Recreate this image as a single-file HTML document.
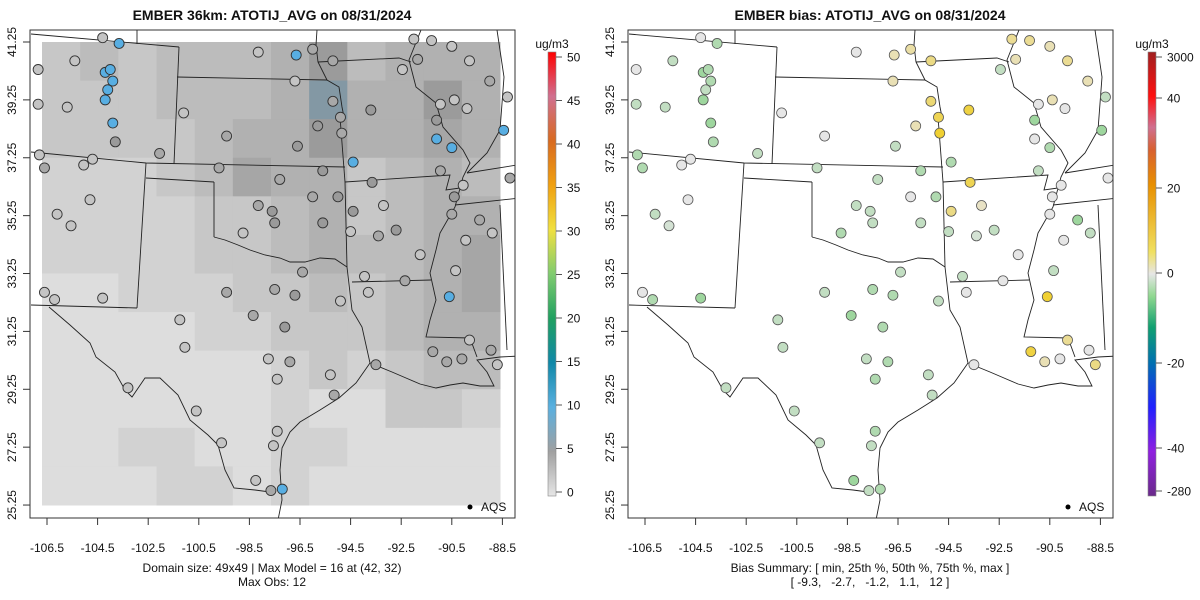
<!DOCTYPE html>
<html><head><meta charset="utf-8"><title>EMBER ATOTIJ_AVG</title>
<style>
html,body{margin:0;padding:0;background:#fff;}
svg{display:block;font-family:"Liberation Sans",Arial,sans-serif;}
</style></head>
<body>
<svg id="chart" width="1200" height="600" viewBox="0 0 1200 600">
<defs>
 <clipPath id="clipL"><rect x="30" y="30" width="485" height="488"/></clipPath>
 <clipPath id="clipR"><rect x="628" y="30" width="485" height="488"/></clipPath>
 <linearGradient id="gradL" x1="0" y1="1" x2="0" y2="0">
  <stop offset="0" stop-color="#e6e6e6"/><stop offset="0.1" stop-color="#a0a0a0"/>
  <stop offset="0.2" stop-color="#5ab0e0"/><stop offset="0.3" stop-color="#1088a8"/>
  <stop offset="0.4" stop-color="#20a060"/><stop offset="0.5" stop-color="#80cc70"/>
  <stop offset="0.6" stop-color="#f0e040"/><stop offset="0.7" stop-color="#f0a010"/>
  <stop offset="0.8" stop-color="#d86a20"/><stop offset="0.9" stop-color="#d07090"/>
  <stop offset="1" stop-color="#ff0000"/>
 </linearGradient>
 <linearGradient id="gradR" x1="0" y1="1" x2="0" y2="0">
  <stop offset="0" stop-color="#6a2a8a"/><stop offset="0.1" stop-color="#9020e0"/>
  <stop offset="0.2" stop-color="#2020ff"/><stop offset="0.3" stop-color="#0070b0"/>
  <stop offset="0.38" stop-color="#10a070"/><stop offset="0.45" stop-color="#90d890"/>
  <stop offset="0.5" stop-color="#e6e6e6"/><stop offset="0.55" stop-color="#f0e060"/>
  <stop offset="0.7" stop-color="#e89000"/><stop offset="0.78" stop-color="#d86030"/>
  <stop offset="0.83" stop-color="#d07090"/><stop offset="0.9" stop-color="#ff1010"/>
  <stop offset="1" stop-color="#a02020"/>
 </linearGradient>
</defs>
<g id="left">
 <g id="gridL" clip-path="url(#clipL)"></g>
 <g id="mapL" clip-path="url(#clipL)"></g>
 <g id="ptsL"></g>
</g>
<g id="right">
 <g id="mapR" clip-path="url(#clipR)"></g>
 <g id="ptsR"></g>
</g>
<g id="axes"></g>
</svg>
<script>
const NS="http://www.w3.org/2000/svg";
// coarse model grid (12x12 blocks, rows north->south), ug/m3
const gridVals=[
[3,4,3,4,4,4,5,7,4,5,5,5],
[3,3,3,4,4,4,5,9,5,5,7,5],
[3,3,3,3,4,5,5,7,5,5,6,5],
[2,2,2,3,4,6,5,5,3,4,5,4],
[2,2,2,2,3,3,4,5,3,4,5,5],
[2,2,2,2,3,3,4,5,4,4,5,6],
[1,1,2,2,2,3,3,4,3,4,5,6],
[1,1,1,1,2,2,3,3,3,4,5,5],
[1,1,1,1,1,1,2,3,2,3,4,4],
[1,1,1,1,1,1,2,1,1,3,3,2],
[1,1,2,2,1,1,2,2,1,1,1,1],
[1,1,1,2,2,1,2,1,1,1,1,1]];
const siteLon=[-104.3,-103.65,-105.4,-104.2,-104.0,-103.9,-104.1,-104.2,-106.85,-106.85,-105.7,-103.9,-103.8,-101.1,-98.15,-96.65,-96.0,-95.2,-96.7,-95.2,-95.8,-94.9,-94.85,-99.4,-96.6,-106.8,-106.6,-105.05,-104.7,-102.05,-99.7,-97.3,-95.6,-95.0,-93.65,-93.2,-104.8,-106.1,-105.55,-98.15,-96.0,-97.6,-97.5,-98.75,-95.6,-94.4,-94.5,-92.7,-93.4,-92.0,-91.85,-92.45,-91.3,-90.5,-89.8,-89.0,-88.3,-88.45,-90.4,-89.9,-91.1,-90.95,-91.1,-90.5,-90.95,-90.4,-90.05,-90.5,-88.2,-89.4,-88.9,-89.95,-90.35,-92.35,-91.75,-90.6,-93.95,-93.8,-94.9,-96.4,-97.5,-96.7,-99.4,-101.25,-101.05,-98.35,-97.1,-97.75,-96.9,-97.4,-95.3,-95.15,-93.5,-91.25,-90.7,-90.1,-88.95,-88.7,-89.8,-106.6,-106.2,-104.3,-103.3,-100.6,-99.6,-97.2,-98.25,-97.65,-97.4,-97.55,-94.4,-93.7];
const siteLat=[41.4,41.2,40.6,40.2,40.3,39.9,39.6,39.25,40.3,39.1,39.0,38.45,37.8,38.8,40.9,40.8,41.0,40.6,39.9,39.2,38.35,38.65,38.1,38.0,37.65,37.35,36.9,37.0,37.2,37.4,36.9,36.5,36.8,35.9,36.4,35.6,35.8,35.3,34.9,35.6,35.9,35.4,35.0,34.65,35.0,35.4,34.7,34.75,34.55,41.35,40.65,40.3,41.3,41.1,40.6,39.9,39.35,38.2,39.25,38.95,38.55,39.1,37.9,37.6,36.8,35.9,36.3,35.3,36.55,35.1,34.65,34.4,33.35,33.0,33.9,32.45,33.15,32.6,32.3,33.3,32.7,32.5,32.6,31.65,30.7,31.8,31.4,30.3,30.2,29.6,29.75,29.05,30.1,30.55,30.2,30.3,30.6,30.1,30.95,32.6,32.35,32.4,29.3,28.5,27.4,25.8,26.1,25.75,27.8,27.3,37.1,38.9];
const siteObs=[3,10,3,12,12,12,12,12,3,3,3,10,5,3,3,10,4,4,3,4,5,4,4,4,5,3,4,3,3,4,4,4,5,5,5,3,3,3,3,4,4,5,5,3,5,5,3,5,4,3,4,3,3,3,3,4,3,10,3,3,5,3,10,10,4,5,3,4,4,4,3,3,3,4,3,10,3,3,3,4,4,5,4,3,3,4,5,3,4,3,3,4,4,4,4,4,4,3,3,3,3,3,3,3,2,10,3,4,3,3,10,5];
const siteBias=[0,-3,-2,-4,-3,-3,-2,-4,0,-2,-2,-4,-3,0,0,3,4,6,3,7,3,9,11,0,-2,-3,-3,0,0,-2,-2,-2,-3,-3,9,2,0,-2,-1,-2,0,-2,-2,-3,-2,6,-2,-2,-1,5,3,-2,5,3,5,3,-2,-4,3,0,-4,0,0,-3,-2,0,0,0,0,-4,-2,0,-2,0,0,11,-2,0,-2,-2,-3,-3,-2,-2,-2,-4,-3,-2,-3,-3,-2,-2,0,10,3,0,0,6,5,0,-3,-4,-2,-2,-2,-3,-4,-2,-3,-2,-3,10,-1];
const xTicks=[-106.5,-104.5,-102.5,-100.5,-98.5,-96.5,-94.5,-92.5,-90.5,-88.5];
const yTicks=[41.25,39.25,37.25,35.25,33.25,31.25,29.25,27.25,25.25];
const cbTicksL=[0,5,10,15,20,25,30,35,40,45,50];
const cbTicksR=["3000","40","20","0","-20","-40","-280"];

function xs(lon,off){return 47+(lon+106.5)*25.3+off;}
function ys(lat){return 42+(41.25-lat)*28.94;}
function mk(tag,attrs,parent){const e=document.createElementNS(NS,tag);for(const k in attrs)e.setAttribute(k,attrs[k]);parent.appendChild(e);return e;}
function gcol(v){
 if(v<=8){const g=Math.round(232-v*11);return `rgb(${g},${g},${g})`;}
 const t=Math.min(1,(v-8)/4);
 return `rgb(${Math.round(144-t*54)},${Math.round(144+t*32)},${Math.round(144+t*80)})`;
}
function bcol(b){
 if(b>=0){const t=Math.min(1,b/11);return `rgb(${Math.round(230+t*10)},${Math.round(230-t*22)},${Math.round(230-t*180)})`;}
 const t=Math.min(1,-b/5);return `rgb(${Math.round(230-t*90)},${Math.round(230-t*20)},${Math.round(230-t*90)})`;
}
function ocol(v){
 if(v>=9)return "#58aee2";
 if(v>=5)return "#9a9a9a";
 if(v>=4)return "#a8a8a8";
 return "#c4c4c4";
}
const gL=document.getElementById('gridL');
const cw=(500-42)/12, ch=(505-42)/12;
gridVals.forEach((row,r)=>row.forEach((v,c)=>{
 const el=mk('rect',{x:42+c*cw,y:42+r*ch,width:cw+0.5,height:ch+0.5,fill:gcol(v)},gL);
 
 
}));
const lines=[
"M31,34 L179,47","M137,28 L137,44","M179,47 L174,164","M177,77 L327,80",
"M317,30 L316,45 L318,62 L327,80 L339,87 L342,107 L344,117","M318,62 L399,58 L411,62",
"M340,117 L345,182","M31,152 L146,163 L345,167","M146,163 L137,308","M146,178 L214,182",
"M214,182 L214,237","M214,237 L225,240 L238,245 L250,250 L265,255 L280,258 L290,262 L305,262 L320,258 L335,259 L347,267",
"M345,182 L347,267","M345,182 L450,175 L446,190 L460,188",
"M421,30 L415,45 L409,60 L416,87 L436,103 L443,127 L463,150 L470,163 L463,177 L455,207 L440,233 L436,250 L430,273 L436,300 L430,320 L426,337 L470,338 L477,357",
"M497,30 L504,77 L500,130 L487,153 L467,173","M467,173 L517,165","M455,205 L520,198",
"M500,205 L507,350","M352,282 L431,280","M347,267 L352,310 L362,327 L370,363",
"M31,305 L137,308",
"M49,307 L70,325 L90,343 L96,357 L115,372 L125,390 L132,397 L145,378 L160,378 L178,395 L190,420 L208,435 L218,445 L225,470 L234,488 L255,490 L270,492",
"M370,363 L356,383 L339,398 L320,410 L300,422 L290,432 L282,448 L280,470 L282,500 L278,520",
"M370,363 L392,372 L406,378 L420,384 L436,388 L450,385 L463,383 L480,386 L494,386 L487,372 L477,360 L500,357 L520,356"];
["mapL","mapR"].forEach((id,i)=>{
 const g=document.getElementById(id);
 lines.forEach(d=>{
  const p=mk('path',{d:d,fill:'none',stroke:'#222','stroke-width':0.9,transform:`translate(${i*598},0)`},g);
  
  
 });
});
const pL=document.getElementById('ptsL'),pR=document.getElementById('ptsR');
siteLon.forEach((lon,i)=>{
 const a=mk('circle',{cx:xs(lon,0),cy:ys(siteLat[i]),r:5,fill:ocol(siteObs[i]),stroke:'#333','stroke-width':0.9},pL);
 
 
 const b=mk('circle',{cx:xs(lon,598),cy:ys(siteLat[i]),r:5,fill:bcol(siteBias[i]),stroke:'#555','stroke-width':0.8},pR);
 
 
});
const ax=document.getElementById('axes');
[0,598].forEach((off,pi)=>{
 const fr=mk('rect',{x:30+off,y:30,width:485,height:488,fill:'none',stroke:'#333','stroke-width':1},ax);
 
 
 xTicks.forEach(t=>{
  const x=xs(t,off);
  mk('line',{x1:x,y1:518,x2:x,y2:525,stroke:'#333'},ax);
  const tx=mk('text',{x:x,y:552,'font-size':12,'text-anchor':'middle',fill:'#111'},ax);
  tx.textContent=t.toFixed(1);
  
  
 });
 yTicks.forEach(t=>{
  const y=ys(t);
  mk('line',{x1:23+off,y1:y,x2:30+off,y2:y,stroke:'#333'},ax);
  const tx=mk('text',{x:16+off,y:y,'font-size':12,'text-anchor':'middle',fill:'#111',transform:`rotate(-90 ${16+off} ${y})`},ax);
  tx.textContent=t.toFixed(2);
  
  
 });
 mk('circle',{cx:470+off,cy:507,r:2.5,fill:'#000'},ax);
 const lg=mk('text',{x:481+off,y:511,'font-size':12,fill:'#111'},ax);
 lg.textContent='AQS';
 
 
});
function cbar(x,grad,labels,pos){
 const r=mk('rect',{x:x,y:52,width:8,height:444,fill:`url(#${grad})`,stroke:'#888','stroke-width':0.6},ax);
 
 
 const u=mk('text',{x:x+4,y:48,'font-size':12,'text-anchor':'middle',fill:'#111'},ax);
 u.textContent='ug/m3';
 
 
 labels.forEach((l,i)=>{
  const y=pos(i,l);
  mk('line',{x1:x+8,y1:y,x2:x+14,y2:y,stroke:'#555'},ax);
  const t=mk('text',{x:x+19,y:y+4.5,'font-size':12,fill:'#111'},ax);
  t.textContent=l;
  
  
 });
}
cbar(548,'gradL',cbTicksL,(i,l)=>492-l*8.7);
const rPos=[57,98,188,273,363,448,491];
cbar(1148,'gradR',cbTicksR,(i)=>rPos[i]);
function txt(x,y,s,size,w,name){const t=mk('text',{x:x,y:y,'font-size':size,'font-weight':w,'text-anchor':'middle',fill:'#111',style:'white-space:pre'},ax);t.textContent=s;}
txt(272,20,'EMBER 36km: ATOTIJ_AVG on 08/31/2024',14,'bold','model-title');
txt(870,20,'EMBER bias: ATOTIJ_AVG on 08/31/2024',14,'bold','bias-title');
txt(272,572,'Domain size: 49x49 | Max Model = 16 at (42, 32)',12,'normal','domain-note');
txt(272,586,'Max Obs: 12',12,'normal','max-obs-note');
txt(870,572,'Bias Summary: [ min, 25th %, 50th %, 75th %, max ]',12,'normal','bias-summary-label');
txt(870,586,'[ -9.3,   -2.7,   -1.2,   1.1,   12 ]',12,'normal','bias-summary-values');
</script>
</body></html>
